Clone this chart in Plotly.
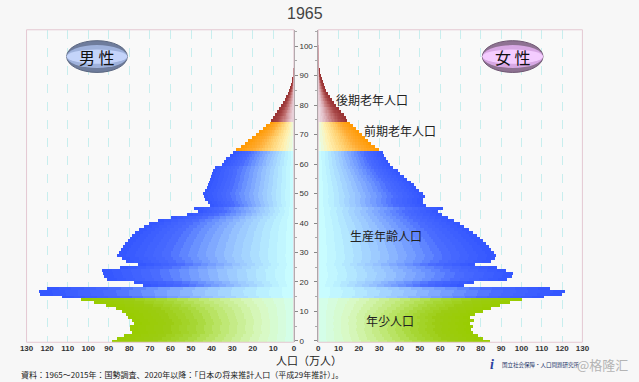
import plotly.graph_objects as go

# ---------------- data (万人) ----------------
year = "1965"
ages = list(range(0, 101))
male = [88.5, 86, 83, 79, 80, 80, 78, 79, 81, 82,
        84, 86.5, 91.5, 97.5, 103.5, 113, 123.5, 124, 120.5, 73.5,
        78, 91, 92.5, 93, 93.5, 85, 76, 82, 84, 86,
        85.5, 84.5, 83.5, 82.5, 81, 80, 79, 77.5, 75.5, 73,
        70.5, 66.5, 60, 52, 47, 49, 41, 42, 43.5, 44,
        44.5, 43.5, 42.5, 42, 41.5, 41, 40.5, 40, 39.5, 38.5,
        35, 34, 33, 31.5, 30, 28.5, 25.7, 24.1, 22.5, 20.6,
        18.7, 17.1, 15, 13.5, 11.9, 11, 10, 9, 8, 7,
        6, 5.2, 4.4, 3.7, 3.0, 2.4, 1.9, 1.5, 1.1, 0.8,
        0.55, 0.35, 0.2, 0.12, 0.07, 0.04, 0.02, 0.01, 0.01, 0, 0]
female = [84.5, 81, 78.5, 76.5, 75.5, 76.5, 75, 77, 75, 77.5,
          81, 85, 89.5, 94.5, 100.5, 111, 120, 121.5, 114, 72,
          77, 93, 95.5, 96, 92.5, 88, 77.5, 85, 87, 87.5,
          86.5, 85, 84, 82.5, 81, 79.5, 78, 76.5, 74.5, 72,
          70, 67, 64, 61, 59, 61.5, 53, 51.5, 51.5, 52.5,
          51.5, 49.5, 48, 47, 45.8, 44, 42.5, 40.5, 39.5, 37,
          35.5, 34.5, 33.7, 32.5, 32, 30, 28, 26, 24.5, 23,
          21.5, 20, 18.5, 17, 15.5, 14.5, 13.5, 12.5, 11, 10,
          8.5, 7.5, 6.5, 5.5, 4.6, 3.8, 3.2, 2.6, 2.1, 1.6,
          1.2, 0.9, 0.6, 0.4, 0.25, 0.15, 0.08, 0.05, 0.03, 0.02, 0.01]
group_names = ["年少人口", "生産年齢人口", "前期老年人口", "後期老年人口"]
group_bounds = [15, 65, 75]          # age where next group starts
x_ticks = list(range(0, 131, 10))
y_ticks = list(range(0, 101, 10))

# ---------------- styling ----------------
W, H = 639, 382
def px(x): return x / W
def py(y): return 1 - y / H

palettes = {
    0: [(0.0, "#d4ffee"), (0.2, "#d8f8c0"), (0.42, "#c0e878"), (0.6, "#a8d838"), (0.78, "#9ccc12"), (1.0, "#99cc00")],
    1: [(0.0, "#ccffff"), (0.14, "#b8eeff"), (0.36, "#98c4ff"), (0.55, "#7098ff"), (0.72, "#4a6cff"), (1.0, "#3355ff")],
    2: [(0.0, "#e4fff0"), (0.2, "#fff0b0"), (0.45, "#ffd070"), (0.7, "#ffaa30"), (1.0, "#ff9900")],
    3: [(0.0, "#f0e8f0"), (0.25, "#e0b8c0"), (0.55, "#c07070"), (0.75, "#a84848"), (1.0, "#993333")],
}

def hex2rgb(h):
    h = h.lstrip("#")
    return tuple(int(h[i:i + 2], 16) for i in (0, 2, 4))

def interp(stops, t):
    for (t0, c0), (t1, c1) in zip(stops[:-1], stops[1:]):
        if t <= t1:
            f = 0 if t1 == t0 else (t - t0) / (t1 - t0)
            a, b = hex2rgb(c0), hex2rgb(c1)
            return "rgb(%d,%d,%d)" % tuple(round(a[i] + (b[i] - a[i]) * f) for i in range(3))
    return stops[-1][1]

def group_of(a):
    g = 0
    for b in group_bounds:
        if a >= b:
            g += 1
    return g

N = 20
fig = go.Figure()
for side, vals, xa, ya in (("m", male, "x", "y"), ("f", female, "x2", "y2")):
    for k in range(N):
        t = (k + 0.5) / N
        colors = [interp(palettes[group_of(a)], t) for a in ages]
        fig.add_trace(go.Bar(
            y=ages, x=[v / N for v in vals], orientation="h",
            marker=dict(color=colors, line=dict(width=0)),
            xaxis=xa, yaxis=ya, showlegend=False, hoverinfo="skip",
            width=1.0,
        ))

tickfont = dict(family="Liberation Sans, Arial", size=8, color="#333", weight="bold")
grid = dict(showgrid=True, gridcolor="#c8eeee", griddash="dash", gridwidth=1,
            tickvals=x_ticks, ticktext=[str(v) for v in x_ticks], tickfont=tickfont,
            zeroline=False, showline=False, ticks="", fixedrange=True)
ydom = [py(345), py(30)]
yrange = [-0.45, 105.55]

fig.update_layout(
    width=W, height=H, margin=dict(l=0, r=0, t=0, b=0),
    paper_bgcolor="#f7f7f7", plot_bgcolor="#f9f9f9",
    barmode="stack", bargap=0,
    xaxis=dict(domain=[px(20), px(293.3)], range=[130, 0], anchor="y", **grid),
    xaxis2=dict(domain=[px(318.2), px(588.3)], range=[0, 130], anchor="y2", **grid),
    yaxis=dict(domain=ydom, range=yrange, anchor="x", side="right",
               tickvals=y_ticks, ticks="outside", ticklen=3, tickcolor="#888",
               tickfont=dict(family="Liberation Sans, Arial", size=8, color="#333"),
               showgrid=False, zeroline=False, showline=True, linecolor="#999", linewidth=1,
               minor=dict(dtick=5, ticks="outside", ticklen=2, tickcolor="#aaa"), fixedrange=True),
    yaxis2=dict(domain=ydom, range=yrange, anchor="x2", side="left",
                tickvals=y_ticks, ticks="outside", ticklen=3, tickcolor="#888",
                showticklabels=False, showgrid=False, zeroline=False,
                showline=True, linecolor="#999", linewidth=1,
                minor=dict(dtick=5, ticks="outside", ticklen=2, tickcolor="#aaa"), fixedrange=True),
    hovermode=False,
)

# panel frames
shapes = []
for xr, yr in (("x domain", "y domain"), ("x2 domain", "y2 domain")):
    shapes.append(dict(type="rect", xref=xr, yref=yr, x0=0, x1=1, y0=0, y1=1,
                       line=dict(color="#e4c8d2", width=1), layer="above"))

# ovals
def oval(cx, cy, w, h, layers):
    out = []
    for frac, col, lc in layers:
        hh = h * frac
        out.append(dict(type="circle", xref="paper", yref="paper",
                        x0=px(cx - w / 2), x1=px(cx + w / 2),
                        y0=py(cy + hh / 2), y1=py(cy - hh / 2),
                        fillcolor=col, line=dict(color=lc, width=1 if lc != "rgba(0,0,0,0)" else 0)))
    return out

shapes += oval(92, 57, 62, 32, [(1.0, "#6e7c9c", "#5a6680"), (0.72, "#9fb2dc", "rgba(0,0,0,0)"),
                                (0.45, "#c4d4fa", "rgba(0,0,0,0)")])
shapes += oval(517, 57, 62, 32, [(1.0, "#8e7292", "#6e5672"), (0.72, "#d8a8e4", "rgba(0,0,0,0)"),
                                 (0.45, "#f4ccff", "rgba(0,0,0,0)")])
fig.update_layout(shapes=shapes)

cjk = "Noto Sans CJK JP"
ann = []
def text(x, y, s, size, color="#222", xanchor="center", family=cjk, **kw):
    ann.append(dict(x=px(x), y=py(y), xref="paper", yref="paper", text=s, showarrow=False,
                    xanchor=xanchor, yanchor="middle",
                    font=dict(family=family, size=size, color=color, **kw)))

text(305, 14, year, 16, color="#444", family="Liberation Sans, Arial")
text(92, 57, "男 性", 16, color="#111")
text(517, 57, "女 性", 16, color="#111")
text(373, 100, group_names[3], 12)
text(402, 132, group_names[2], 12)
text(388, 237, group_names[1], 12)
text(392, 323, group_names[0], 12)
text(309, 363, "人口（万人）", 11)
text(12, 377.5, "資料：1965～2015年：国勢調査、2020年以降：「日本の将来推計人口（平成29年推計）」。", 8,
     xanchor="left")
text(496, 367, "<i><b>i</b></i>", 14, color="#2a40a0", family="Liberation Serif")
text(504, 368, "国立社会保障・人口問題研究所", 5.5, color="#223366", xanchor="left")
text(609, 367, "@格隆汇", 13, color="#b4b4b4")
fig.update_layout(annotations=ann)

fig.write_html("out.html", config={"displayModeBar": False},
               post_script="document.body.style.margin='0px';document.body.style.overflow='hidden';")
